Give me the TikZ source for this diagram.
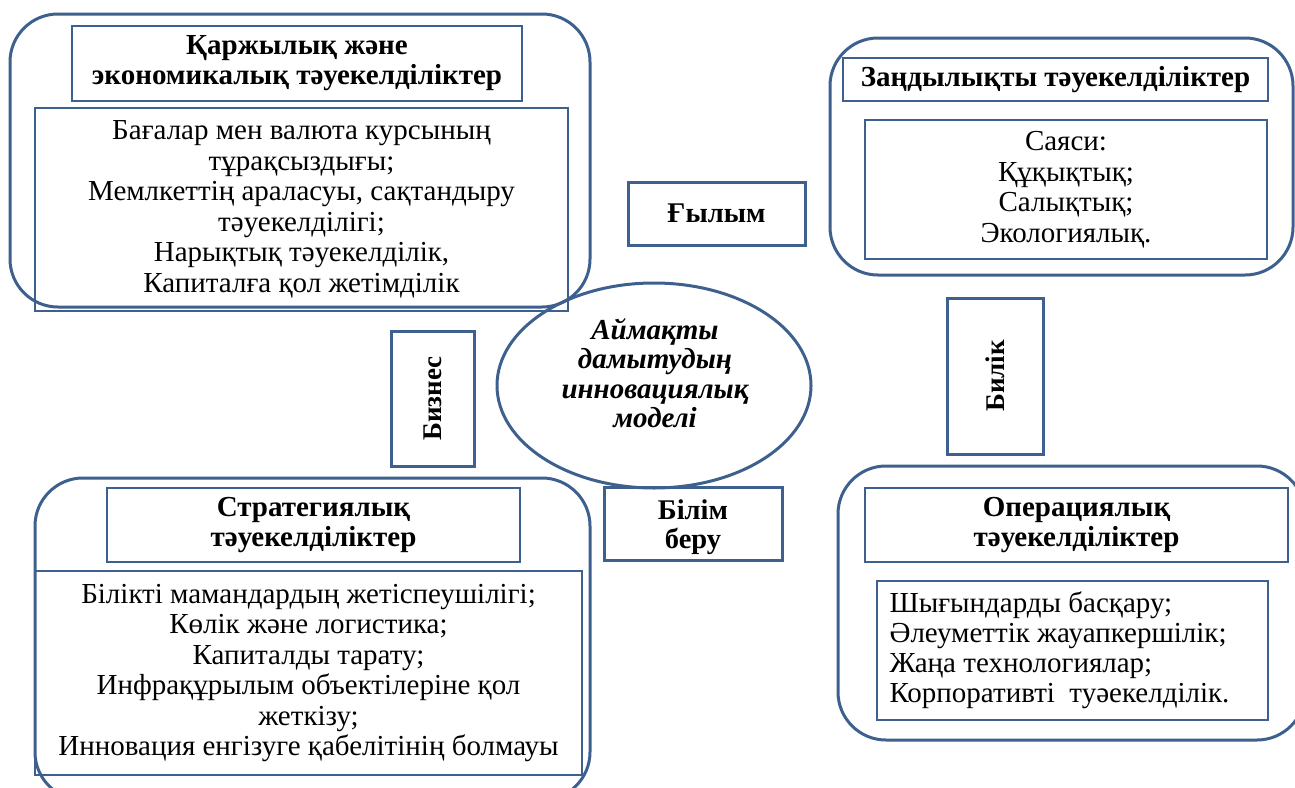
\documentclass[tikz,border=0pt]{standalone}
\usepackage{fontspec}
\setmainfont{Liberation Serif}
\usetikzlibrary{shapes.geometric}
\definecolor{frame}{RGB}{62,96,143}
\tikzset{
  outerbox/.style={draw=frame, line width=3pt, rounded corners=48pt, inner sep=0pt},
  smallbox/.style={draw=frame, line width=3pt, inner sep=0pt, font=\fontsize{28.5}{29}\selectfont\bfseries, align=center},
  titlebox/.style={draw=frame, line width=1.3pt, inner sep=0pt, font=\fontsize{29}{30}\selectfont\bfseries, align=center},
  bodybox/.style={draw=frame, line width=1.3pt, inner sep=0pt, font=\fontsize{29}{30.5}\selectfont, align=center},
  sidetext/.style={font=\fontsize{27}{29}\selectfont\bfseries, rotate=90, inner sep=0pt},
}
\begin{document}
\begin{tikzpicture}[x=1pt,y=-1pt]
\useasboundingbox (0,0) rectangle (1295,787);
\clip (0,0) rectangle (1295,787);
% top-left group
\node[outerbox, minimum width=580pt, minimum height=293pt] (tlo) at (300,160.5) {};
\node[bodybox, minimum width=533pt, minimum height=203pt] (tlb) at (301.5,209.5) {Бағалар мен валюта курсының\\тұрақсыздығы;\\Мемлкеттің араласуы, сақтандыру\\тәуекелділігі;\\Нарықтық тәуекелділік,\\Капиталға қол жетімділік};
\node[titlebox, minimum width=450pt, minimum height=75pt] (tlt) at (297,63.5) {Қаржылық және\\экономикалық тәуекелділіктер};
% science
\node[smallbox, minimum width=177pt, minimum height=63pt] (sci) at (716.5,213.5) {Ғылым};
% top-right group
\node[outerbox, minimum width=463pt, minimum height=237pt] (tro) at (1061.5,156.5) {};
\node[titlebox, minimum width=425pt, minimum height=43pt] (trt) at (1055.5,79.5) {Заңдылықты тәуекелділіктер};
\node[bodybox, minimum width=402pt, minimum height=139pt] (trb) at (1066,189.5) {Саяси:\\Құқықтық;\\Салықтық;\\Экологиялық.};
% centre ellipse
\node[ellipse, draw=frame, line width=3pt, minimum width=314pt, minimum height=205pt, inner sep=0pt] (mid) at (654,385.5) {};
\node[align=center, inner sep=0pt, font=\fontsize{29}{29.5}\selectfont\bfseries\itshape] (midtext) at (655,373) {Аймақты\\дамытудың\\инновациялық\\моделі};
% business and power
\node[smallbox, minimum width=83pt, minimum height=135pt] (bus) at (432.5,398.5) {};
\node[sidetext] (bustext) at (bus.center) {Бизнес};
\node[smallbox, minimum width=96pt, minimum height=156pt] (pow) at (995,376) {};
\node[sidetext] (powtext) at (pow.center) {Билік};
% bottom-left group
\node[outerbox, minimum width=555pt, minimum height=322pt] (blo) at (312.5,639) {};
\node[titlebox, minimum width=413pt, minimum height=74pt] (blt) at (313.5,525) {Стратегиялық\\тәуекелділіктер};
\node[bodybox, minimum width=547pt, minimum height=204pt] (blb) at (308.5,673) {Білікті мамандардың жетіспеушілігі;\\Көлік және логистика;\\Капиталды тарату;\\Инфрақұрылым объектілеріне қол\\жеткізу;\\Инновация енгізуге қабелітінің болмауы};
% education
\node[smallbox, minimum width=178pt, minimum height=73pt] (edu) at (693,523.5) {};
\node[align=center, inner sep=0pt, font=\fontsize{28.5}{29}\selectfont\bfseries] (edutext) at (693,527) {Білім\\беру};
% bottom-right group
\node[outerbox, minimum width=467pt, minimum height=274pt] (bro) at (1071.5,603) {};
\node[titlebox, minimum width=423pt, minimum height=74pt] (brt) at (1076.5,525) {Операциялық\\тәуекелділіктер};
\node[bodybox, minimum width=391pt, minimum height=139pt] (brb) at (1072.5,650.5) {};
\node[anchor=west, align=left, inner sep=0pt, font=\fontsize{29}{30}\selectfont] (brtext) at ([xshift=13pt]brb.west) {Шығындарды басқару;\\Әлеуметтік жауапкершілік;\\Жаңа технологиялар;\\Корпоративті\ \ туәекелділік.};
\end{tikzpicture}
\end{document}
